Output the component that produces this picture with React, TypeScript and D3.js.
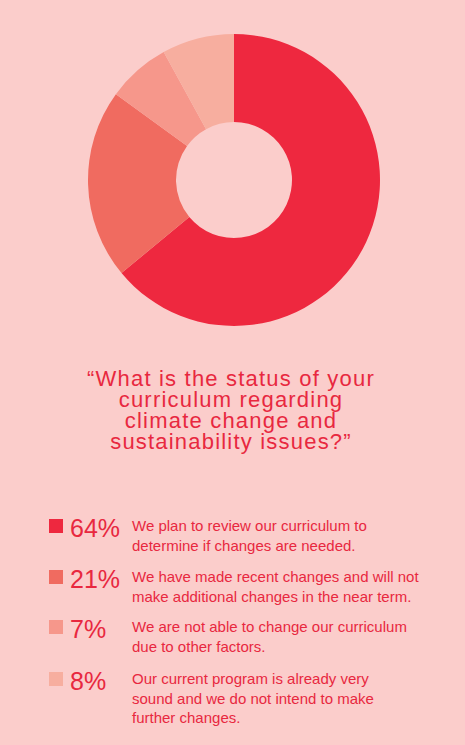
import * as d3 from "d3";
import { useEffect, useRef } from "react";

const W = 465;
const H = 745;

const categories = [
  "Review curriculum",
  "Recent changes made",
  "Not able to change",
  "Already very sound",
];
const values = [64, 21, 7, 8];
const descriptions = [
  ["We plan to review our curriculum to", "determine if changes are needed."],
  ["We have made recent changes and will not", "make additional changes in the near term."],
  ["We are not able to change our curriculum", "due to other factors."],
  ["Our current program is already very", "sound and we do not intend to make", "further changes."],
];
const titleLines = [
  "\u201CWhat is the status of your",
  "curriculum regarding",
  "climate change and",
  "sustainability issues?\u201D",
];
const colors = ["#EE283F", "#F06B60", "#F6978B", "#F7AE9F"];

const BG = "#FBCDCB";
const INK = "#E8283F";
const FONT = "'Liberation Sans', Arial, sans-serif";

export default function App() {
  const ref = useRef<SVGSVGElement | null>(null);

  useEffect(() => {
    const svg = d3.select(ref.current);
    svg.selectAll("*").remove();

    svg.append("rect").attr("width", W).attr("height", H).attr("fill", BG);

    // donut, clockwise from 12 o'clock
    const pie = d3.pie<number>().sort(null).value(d => d);
    const arc = d3.arc<d3.PieArcDatum<number>>().innerRadius(58).outerRadius(146);
    const g = svg.append("g").attr("transform", "translate(234,180)");
    g.selectAll("path")
      .data(pie(values))
      .enter()
      .append("path")
      .attr("d", arc)
      .attr("fill", (_, i) => colors[i]);

    // question
    svg.append("g")
      .selectAll("text")
      .data(titleLines)
      .enter()
      .append("text")
      .attr("x", 231)
      .attr("y", (_, i) => 386 + i * 21)
      .attr("text-anchor", "middle")
      .attr("font-family", FONT)
      .attr("font-size", 22)
      .attr("letter-spacing", 1.2)
      .attr("fill", INK)
      .text(d => d);

    // legend
    const rowY = d3.scaleOrdinal<string, number>().domain(categories).range([537, 588, 638, 690]);
    const rows = svg.append("g")
      .selectAll("g")
      .data(categories)
      .enter()
      .append("g")
      .attr("transform", d => `translate(0,${rowY(d)})`);

    rows.append("rect")
      .attr("x", 49)
      .attr("y", -18)
      .attr("width", 14)
      .attr("height", 14)
      .attr("fill", (_, i) => colors[i]);

    rows.append("text")
      .attr("x", 70)
      .attr("y", 0)
      .attr("font-family", FONT)
      .attr("font-size", 25)
      .attr("fill", INK)
      .text((_, i) => `${values[i]}%`);

    rows.each(function (_, i) {
      d3.select(this)
        .selectAll("text.desc")
        .data(descriptions[i])
        .enter()
        .append("text")
        .attr("class", "desc")
        .attr("x", 132)
        .attr("y", (_, j) => -6 + j * 19.5)
        .attr("font-family", FONT)
        .attr("font-size", 15)
        .attr("fill", INK)
        .text(d => d);
    });
  }, []);

  return (
    <svg
      ref={ref}
      width={W}
      height={H}
      viewBox={`0 0 ${W} ${H}`}
      style={{ position: "absolute", top: 0, left: 0, display: "block" }}
    />
  );
}
